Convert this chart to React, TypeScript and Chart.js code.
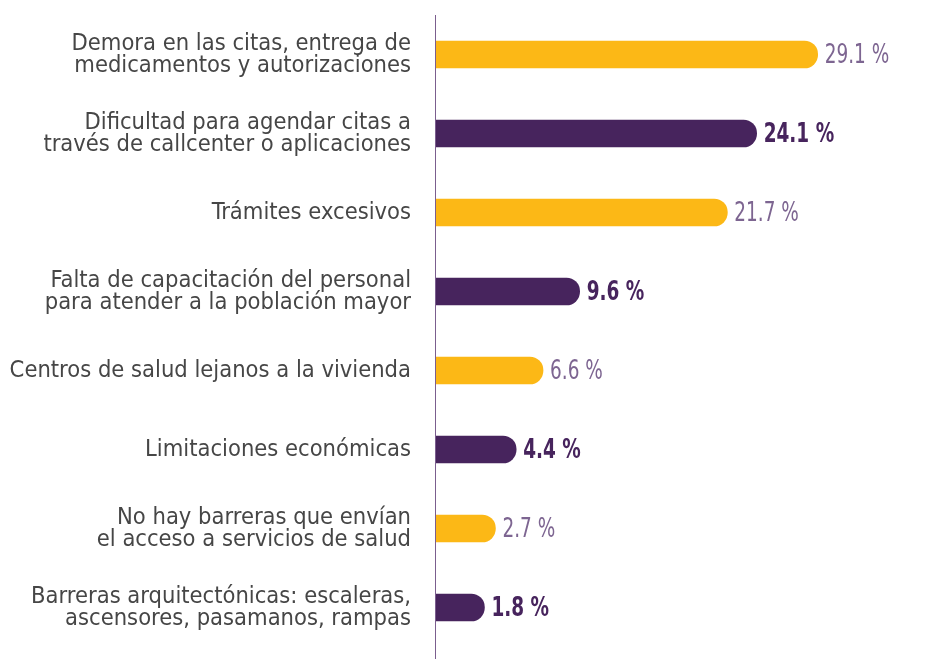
import { useEffect, useRef } from "react";
import { Chart, registerables } from "chart.js";

Chart.register(...registerables);

const categories: (string | string[])[] = [
  ["Demora en las citas, entrega de", "medicamentos y autorizaciones"],
  ["Dificultad para agendar citas a", "través de callcenter o aplicaciones"],
  "Trámites excesivos",
  ["Falta de capacitación del personal", "para atender a la población mayor"],
  "Centros de salud lejanos a la vivienda",
  "Limitaciones económicas",
  ["No hay barreras que envían", "el acceso a servicios de salud"],
  ["Barreras arquitectónicas: escaleras,", "ascensores, pasamanos, rampas"],
];

const values: number[] = [29.1, 24.1, 21.7, 9.6, 6.6, 4.4, 2.7, 1.8];

const valueLabels: string[] = ["29.1 %", "24.1 %", "21.7 %", "9.6 %", "6.6 %", "4.4 %", "2.7 %", "1.8 %"];

const YELLOW = "#FCB816";
const PURPLE = "#47245D";
const YELLOW_TEXT = "#7D6591";
const PURPLE_TEXT = "#47245D";
const AXIS_COLOR = "#7B5E8E";
const LABEL_COLOR = "#464646";
const FONT_FAMILY = "'Liberation Sans Narrow', 'DejaVu Sans Condensed', 'Liberation Sans', sans-serif";

const isPurple = (i: number) => i % 2 === 1;

const valueLabelPlugin = {
  id: "valueLabels",
  afterDatasetsDraw(chart: any) {
    const ctx = chart.ctx;
    const meta = chart.getDatasetMeta(0);
    meta.data.forEach((bar: any, i: number) => {
      ctx.save();
      ctx.font = `${isPurple(i) ? "bold" : "normal"} 27px ${FONT_FAMILY}`;
      ctx.fillStyle = isPurple(i) ? PURPLE_TEXT : YELLOW_TEXT;
      ctx.textAlign = "left";
      ctx.textBaseline = "middle";
      ctx.translate(bar.x + 7, bar.y + 1);
      ctx.scale(0.76, 1);
      ctx.fillText(valueLabels[i], 0, 0);
      ctx.restore();
    });
  },
};

const axisLinePlugin = {
  id: "axisLine",
  afterDraw(chart: any) {
    const { ctx, chartArea } = chart;
    ctx.save();
    ctx.strokeStyle = AXIS_COLOR;
    ctx.lineWidth = 1;
    ctx.beginPath();
    ctx.moveTo(chartArea.left + 0.5, chartArea.top);
    ctx.lineTo(chartArea.left + 0.5, chart.height);
    ctx.stroke();
    ctx.restore();
  },
};

export default function App() {
  const canvasRef = useRef<HTMLCanvasElement | null>(null);

  useEffect(() => {
    if (!canvasRef.current) return;
    const chart = new Chart(canvasRef.current, {
      type: "bar",
      data: {
        labels: categories,
        datasets: [
          {
            data: values,
            backgroundColor: (c: any) => (isPurple(c.dataIndex) ? PURPLE : YELLOW),
            borderWidth: 0,
            borderRadius: 14,
            borderSkipped: "start",
            barThickness: 27,
            base: -2.25,
          },
        ],
      },
      options: {
        indexAxis: "y",
        animation: false,
        responsive: false,
        maintainAspectRatio: false,
        layout: { padding: { top: 15, bottom: 12, left: 0, right: 0 } },
        plugins: {
          legend: { display: false },
          tooltip: { enabled: false },
        },
        scales: {
          x: {
            display: false,
            min: -2.25,
            max: 38.3,
          },
          y: {
            grid: { display: false, drawTicks: false },
            border: { display: false },
            afterFit: (scale: any) => {
              scale.width = 435;
              scale.paddingTop = 0;
              scale.paddingBottom = 0;
            },
            ticks: {
              autoSkip: false,
              padding: 24,
              color: LABEL_COLOR,
              font: { family: FONT_FAMILY, size: 23.5, lineHeight: 0.93 },
            },
          },
        },
      },
      plugins: [valueLabelPlugin, axisLinePlugin],
    });
    return () => chart.destroy();
  }, []);

  return (
    <div style={{ position: "fixed", left: 0, top: 0, width: 930, height: 659, background: "#ffffff" }}>
      <canvas ref={canvasRef} width={930} height={659} />
    </div>
  );
}
